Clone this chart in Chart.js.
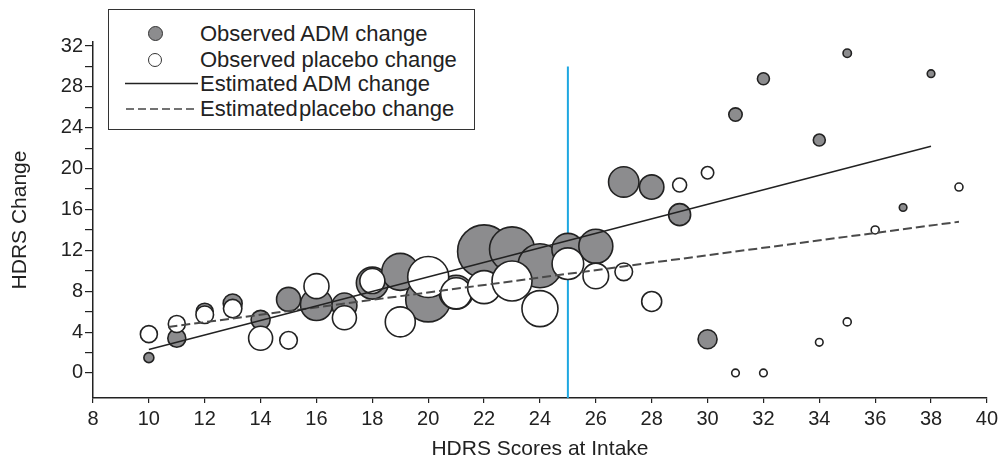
<!DOCTYPE html>
<html>
<head>
<meta charset="utf-8">
<script src="https://cdn.jsdelivr.net/npm/chart.js@4.4.1/dist/chart.umd.min.js"></script>
<style>
html,body{margin:0;padding:0;background:#fff;}
#wrap{position:relative;width:998px;height:467px;overflow:hidden;font-family:"Liberation Sans",Arial,Helvetica,sans-serif;color:#222;}
#c{position:absolute;left:0;top:0;}
.lgbox{position:absolute;left:108px;top:9px;width:367px;height:121px;box-sizing:border-box;border:1.5px solid #333;background:#fff;}
.dot{position:absolute;box-sizing:border-box;border:1.5px solid #333;border-radius:50%;}
.lgtxt{position:absolute;left:200px;font-size:22px;line-height:26px;white-space:nowrap;color:#222;}
svg.lgline{position:absolute;overflow:visible;}
</style>
</head>
<body>
<div id="wrap">
  <canvas id="c" width="1015" height="467"></canvas>
  <div class="lgbox"></div>
  <div class="dot" style="left:147.5px;top:25.5px;width:15px;height:15px;background:#8c8c8e;"></div>
  <div class="dot" style="left:148px;top:53px;width:14px;height:14px;background:#fff;"></div>
  <svg class="lgline" style="left:0;top:0;" width="998" height="140">
    <line x1="125" y1="83.5" x2="198" y2="83.5" stroke="#222" stroke-width="1.5"/>
    <line x1="126" y1="109" x2="198" y2="109" stroke="#444" stroke-width="1.6" stroke-dasharray="8,4"/>
  </svg>
  <div class="lgtxt" style="top:21px;">Observed ADM change</div>
  <div class="lgtxt" style="top:47px;">Observed placebo change</div>
  <div class="lgtxt" style="top:71px;">Estimated ADM change</div>
  <div class="lgtxt" style="top:96px;"><span style="word-spacing:-5px;">Estimated placebo</span> change</div>
</div>
<script>
// ---- data ----
const intakeADM   = [10, 11, 12, 13, 14, 15, 16, 17, 18, 19, 20, 21, 22, 23, 24, 25, 26, 27, 28, 29, 30, 31, 32, 34, 35, 37, 38];
const changeADM   = [1.5, 3.4, 6.0, 6.8, 5.2, 7.2, 6.7, 6.6, 8.8, 9.9, 7.2, 7.9, 11.9, 12.1, 10.5, 12.1, 12.4, 18.7, 18.2, 15.5, 3.3, 25.3, 28.8, 22.8, 31.3, 16.2, 29.3];
const weightADM   = [5, 9, 8.5, 9.5, 9.5, 12, 16, 12.5, 16, 18.5, 22.5, 17, 26.5, 22.5, 22, 16, 17, 15.2, 12.2, 11, 9.5, 6.7, 6, 6, 4.2, 3.8, 3.8];

const intakePlacebo = [10, 11, 12, 13, 14, 15, 16, 17, 18, 19, 20, 21, 22, 23, 24, 25, 26, 27, 28, 29, 30, 31, 32, 34, 35, 36, 39];
const changePlacebo = [3.8, 4.8, 5.7, 6.3, 3.4, 3.2, 8.5, 5.4, 9.0, 5.0, 9.4, 7.8, 8.4, 9.0, 6.3, 10.7, 9.5, 9.9, 7.0, 18.4, 19.6, 0, 0, 3.0, 5.0, 14.0, 18.2];
const weightPlacebo = [8.5, 8.5, 8.8, 9.2, 12, 8.8, 12.5, 12, 12.5, 15, 20.5, 15.5, 16.5, 20, 18, 15.8, 12.8, 8.8, 10, 7, 6.2, 3.8, 3.8, 3.8, 4, 4, 4];

const estADMx = [10, 38];
const estADMy = [2.3, 22.2];
const estPlaceboX = [10.7, 39];
const estPlaceboY = [4.5, 14.8];

const cutoffX = 25;
const cutoffTop = 30;

const xTickValues = [8, 10, 12, 14, 16, 18, 20, 22, 24, 26, 28, 30, 32, 34, 36, 38, 40];
const yTickValues = [0, 2, 4, 6, 8, 10, 12, 14, 16, 18, 20, 22, 24, 26, 28, 30, 32];
const yMin = -2.45, yMax = 32.4;

// ---- build datasets ----
const pts = (xs, ys, rs) => xs.map((x, i) => rs ? ({x, y: ys[i], r: rs[i]}) : ({x, y: ys[i]}));
const FONT = '"Liberation Sans", Arial, Helvetica, sans-serif';

new Chart(document.getElementById('c'), {
  type: 'bubble',
  data: {
    datasets: [
      { type: 'line', label: 'Estimated ADM change', data: pts(estADMx, estADMy),
        borderColor: '#222', borderWidth: 1.5, pointRadius: 0, fill: false, order: 0 },
      { type: 'line', label: 'Estimated placebo change', data: pts(estPlaceboX, estPlaceboY),
        borderColor: '#4a4a4a', borderWidth: 2, borderDash: [9, 4], pointRadius: 0, fill: false, order: 0 },
      { label: 'Observed placebo change', data: pts(intakePlacebo, changePlacebo, weightPlacebo),
        backgroundColor: '#ffffff', borderColor: '#222', borderWidth: 1.6, order: 1 },
      { label: 'Observed ADM change', data: pts(intakeADM, changeADM, weightADM),
        backgroundColor: '#8c8c8e', borderColor: '#222', borderWidth: 1.6, order: 2 },
      { type: 'line', label: 'cutoff', data: [{x: cutoffX, y: cutoffTop}, {x: cutoffX, y: yMin}],
        borderColor: '#1ea7e1', borderWidth: 2, pointRadius: 0, fill: false, order: 3 }
    ]
  },
  options: {
    responsive: false,
    animation: false,
    events: [],
    layout: { padding: { top: 42, right: 12, left: 0, bottom: 0 } },
    plugins: { legend: { display: false }, tooltip: { enabled: false } },
    scales: {
      x: {
        type: 'linear', min: 8, max: 40,
        afterBuildTicks: s => { s.ticks = xTickValues.map(v => ({ value: v })); },
        afterFit: s => { s.height = 69; s.paddingLeft = 0; s.paddingRight = 0; },
        grid: { display: true, drawOnChartArea: false, drawTicks: true, tickLength: 5, color: '#222', lineWidth: 1.2 },
        border: { display: true, color: '#222', width: 1.5 },
        ticks: { color: '#222', font: { family: FONT, size: 20 }, padding: 4, maxRotation: 0, autoSkip: false },
        title: { display: true, text: 'HDRS Scores at Intake', color: '#222', font: { family: FONT, size: 21 }, padding: { top: 0, bottom: 5 } }
      },
      y: {
        type: 'linear', min: yMin, max: yMax,
        afterBuildTicks: s => { s.ticks = yTickValues.map(v => ({ value: v })); },
        afterFit: s => { s.width = 93; s.paddingTop = 0; s.paddingBottom = 0; },
        grid: { display: true, drawOnChartArea: false, drawTicks: true, tickLength: 8, color: '#222', lineWidth: 1.2 },
        border: { display: true, color: '#222', width: 1.5 },
        ticks: { color: '#222', font: { family: FONT, size: 20 }, padding: 2, autoSkip: false,
          callback: v => (v % 4 === 0 ? String(v) : '') },
        title: { display: true, text: 'HDRS Change', color: '#222', font: { family: FONT, size: 21 }, padding: { top: 8, bottom: 0 } }
      }
    }
  }
});
</script>
</body>
</html>
